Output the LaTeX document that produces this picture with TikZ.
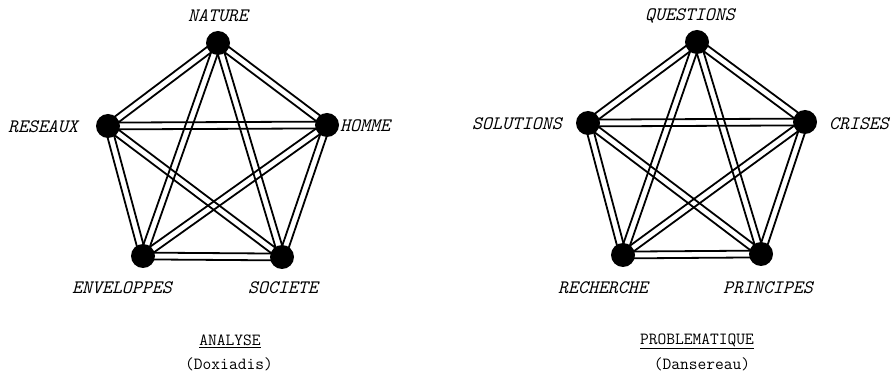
\documentclass[tikz,border=0pt]{standalone}
\usetikzlibrary{calc}
\tikzset{
  dot/.style={circle,fill=black,inner sep=0pt,minimum size=24pt},
  lab/.style={font=\fontsize{19}{22}\selectfont\ttfamily\itshape,inner sep=0pt},
  captext/.style={font=\fontsize{17}{20}\selectfont\ttfamily,inner sep=0pt},
  rail/.style={line width=1.8pt,black},
}
\newcommand{\dbl}[2]{%
  \draw[rail] ($(#1)!3.4pt!90:(#2)$) -- ($(#2)!3.4pt!-90:(#1)$);
  \draw[rail] ($(#1)!3.4pt!-90:(#2)$) -- ($(#2)!3.4pt!90:(#1)$);
}
\begin{document}
\begin{tikzpicture}[x=1pt,y=-1pt]
\useasboundingbox (0,0) rectangle (895,379);
% left pentagon
\coordinate (N) at (218,43);
\coordinate (R) at (108,126);
\coordinate (H) at (327,125);
\coordinate (E) at (143,256);
\coordinate (S) at (282,257);
\foreach \a/\b in {N/R,N/H,N/E,N/S,R/H,R/E,R/S,H/E,H/S,E/S}{\dbl{\a}{\b}}
\foreach \p in {N,R,H,E,S}{\node[dot] (d\p) at (\p) {};}
\node[lab] (lN) at (218,16) {NATURE};
\node[lab] (lR) at (43,127) {RESEAUX};
\node[lab,anchor=west] (lH) at (340,126) {HOMME};
\node[lab] (lE) at (122,288) {ENVELOPPES};
\node[lab] (lS) at (283,288) {SOCIETE};
\node[captext] (tA) at (230,341) {\underline{ANALYSE}};
\node[captext] (tD) at (229,364) {(Doxiadis)};
% right pentagon
\coordinate (Q) at (697,42);
\coordinate (So) at (588,123);
\coordinate (C) at (805,122);
\coordinate (Re) at (623,255);
\coordinate (P) at (761,254);
\foreach \a/\b in {Q/So,Q/C,Q/Re,Q/P,So/C,So/Re,So/P,C/Re,C/P,Re/P}{\dbl{\a}{\b}}
\foreach \p in {Q,So,C,Re,P}{\node[dot] (d\p) at (\p) {};}
\node[lab] (lQ) at (690,16) {QUESTIONS};
\node[lab] (lSo) at (517,124) {SOLUTIONS};
\node[lab] (lC) at (859,124) {CRISES};
\node[lab] (lRe) at (603,288) {RECHERCHE};
\node[lab] (lP) at (768,288) {PRINCIPES};
\node[captext] (tP) at (697,341) {\underline{PROBLEMATIQUE}};
\node[captext] (tDa) at (702,364) {(Dansereau)};
\end{tikzpicture}
\end{document}
